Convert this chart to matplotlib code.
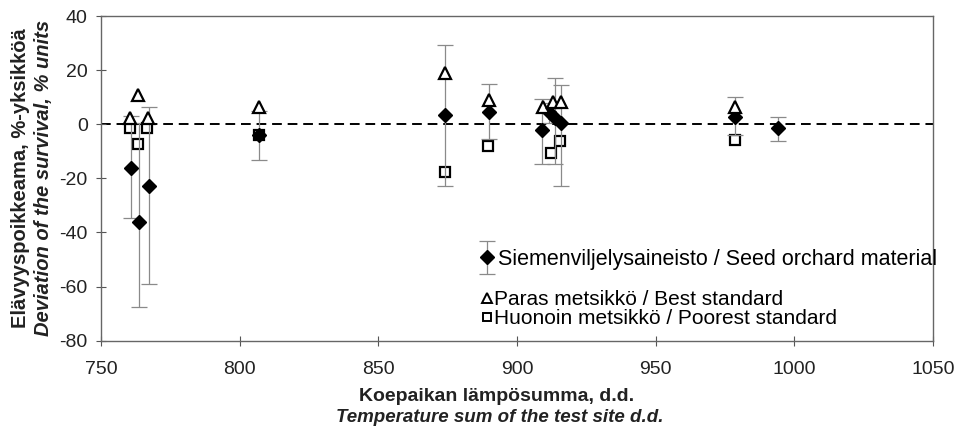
import matplotlib.pyplot as plt
from matplotlib.lines import Line2D
from matplotlib.container import ErrorbarContainer
from matplotlib.legend_handler import HandlerErrorbar

plt.rcParams['font.family'] = ['Liberation Sans', 'DejaVu Sans']
plt.rcParams['axes.unicode_minus'] = False

# === Data ===
# Seed orchard material: mean deviation with lower / upper bounds
seed_x = [760.8, 763.8, 767.2, 806.8, 874.0, 889.8, 909.0, 911.5, 913.5, 915.8, 978.5, 994.0]
seed_y = [-16.0, -36.2, -23.0, -4.0, 3.5, 4.6, -2.0, 4.5, 2.5, 0.5, 2.8, -1.5]
seed_lo = [-34.5, -67.5, -58.9, -13.2, -22.8, -5.5, -14.6, 0.5, -14.6, -23.0, -4.0, -6.0]
seed_hi = [3.0, 0.5, 6.3, 5.0, 29.3, 14.9, 9.2, 8.0, 17.0, 14.5, 10.0, 2.6]

# Best standard
best_x = [760.6, 763.4, 767.1, 807.0, 874.0, 889.8, 909.5, 913.0, 916.0, 978.6]
best_y = [2.5, 10.8, 2.5, 6.5, 18.8, 9.0, 6.5, 8.3, 8.3, 6.3]

# Poorest standard
poor_x = [760.4, 763.3, 766.6, 807.0, 874.0, 889.6, 912.2, 915.3, 978.6]
poor_y = [-1.5, -7.3, -1.5, -4.0, -17.5, -8.0, -10.6, -6.3, -5.8]

x_ticks = [750, 800, 850, 900, 950, 1000, 1050]
y_ticks = [-80, -60, -40, -20, 0, 20, 40]

# === Plot setup ===
fig = plt.figure(figsize=(9.62, 4.34), dpi=100)
ax = fig.add_axes([0.105, 0.215, 0.865, 0.748])

yerr = [[y - lo for y, lo in zip(seed_y, seed_lo)],
        [hi - y for y, hi in zip(seed_y, seed_hi)]]

ax.axhline(0, color='black', lw=1.4, ls=(0, (5, 3)), zorder=1)

ax.plot(poor_x, poor_y, ls='none', marker='s', ms=7, mfc='white',
        mec='black', mew=1.6, zorder=2)
eb = ax.errorbar(seed_x, seed_y, yerr=yerr, fmt='D', ms=7.5, color='black',
                 ecolor='#8a8a8a', elinewidth=0.9, capsize=6, capthick=0.9,
                 zorder=3)
ax.plot(best_x, best_y, ls='none', marker='^', ms=8, mfc='white',
        mec='black', mew=1.6, zorder=4)

# === Axes styling ===
ax.set_xlim(750, 1050)
ax.set_ylim(-80, 40)
ax.set_xticks(x_ticks)
ax.set_yticks(y_ticks)
ax.tick_params(direction='inout', length=7, width=0.8, color='#555555',
               labelsize=14, labelcolor='#222222')
ax.tick_params(axis='x', pad=11)
ax.tick_params(axis='y', pad=6)
for s in ax.spines.values():
    s.set_color('#666666')
    s.set_linewidth(1.0)

# === Axis labels (two languages) ===
fig.text(0.021, 0.59, "Elävyyspoikkeama, %-yksikköä", rotation=90,
         ha='center', va='center', fontsize=14.5, fontweight='bold', color='#222222')
fig.text(0.045, 0.59, "Deviation of the survival, % units", rotation=90,
         ha='center', va='center', fontsize=14.5, fontweight='bold',
         fontstyle='italic', color='#222222')
fig.text(0.516, 0.086, "Koepaikan lämpösumma, d.d.", ha='center', va='center',
         fontsize=14, fontweight='bold', color='#222222')
fig.text(0.52, 0.037, "Temperature sum of the test site d.d.", ha='center',
         va='center', fontsize=13.5, fontweight='bold', fontstyle='italic',
         color='#222222')

# === Legends ===
leg1 = ax.legend([eb], ["Siemenviljelysaineisto / Seed orchard material"],
                 handler_map={ErrorbarContainer: HandlerErrorbar(yerr_size=0.78)},
                 loc='center left', bbox_to_anchor=(0.453, 0.25),
                 frameon=False, fontsize=15.5, borderpad=0, borderaxespad=0,
                 handletextpad=0.14, handlelength=0.8)
ax.add_artist(leg1)

h_best = Line2D([], [], ls='none', marker='^', ms=7, mfc='white', mec='black', mew=1.4)
h_poor = Line2D([], [], ls='none', marker='s', ms=6, mfc='white', mec='black', mew=1.4)
ax.legend([h_best, h_poor],
          ["Paras metsikkö / Best standard", "Huonoin metsikkö / Poorest standard"],
          loc='center left', bbox_to_anchor=(0.457, 0.098), frameon=False,
          fontsize=15, borderpad=0, borderaxespad=0, handletextpad=0.1,
          handlelength=0.5, labelspacing=0.0)

plt.savefig("out.png", dpi=100)
